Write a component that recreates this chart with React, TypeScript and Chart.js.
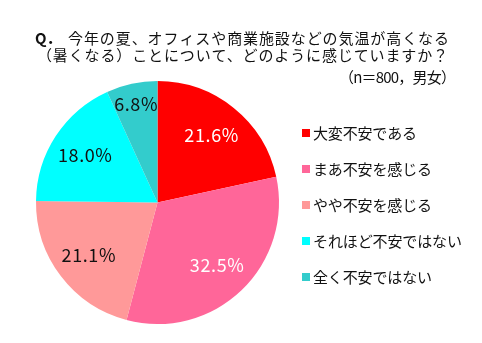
import React, { useEffect, useRef } from "react";
import { Chart, registerables } from "chart.js";

Chart.register(...registerables);

const questionMark = "Q．";
const titleLines = [
  "今年の夏、オフィスや商業施設などの気温が高くなる",
  "（暑くなる）ことについて、どのように感じていますか？",
];
const sampleNote = "（n＝800，男女）";
const categories = [
  "大変不安である",
  "まあ不安を感じる",
  "やや不安を感じる",
  "それほど不安ではない",
  "全く不安ではない",
];
const shares = [21.6, 32.5, 21.1, 18.0, 6.8];
const sliceColors = ["#ff0000", "#ff6699", "#ff9999", "#00ffff", "#33cccc"];
const labelColors = ["#ffffff", "#ffffff", "#111111", "#111111", "#111111"];

const FONT = '"Noto Sans CJK JP", "Noto Sans", sans-serif';

// Draws text left-aligned at x, stretching letter spacing so it spans `width`.
function fitText(ctx: any, text: string, x: number, y: number, width: number) {
  ctx.letterSpacing = "0px";
  const w = ctx.measureText(text).width;
  const n = Array.from(text).length;
  const sp = n > 1 ? (width - w) / (n - 1) : 0;
  ctx.letterSpacing = `${sp}px`;
  ctx.textAlign = "left";
  ctx.fillText(text, x, y);
  ctx.letterSpacing = "0px";
}

const overlayPlugin = {
  id: "overlay",
  afterDraw(chart: any) {
    const ctx = chart.ctx as any;
    ctx.save();
    ctx.fillStyle = "#111111";
    ctx.textBaseline = "middle";

    // Title block
    ctx.font = `bold 15px ${FONT}`;
    ctx.textAlign = "left";
    ctx.fillText(questionMark, 35, 38);
    ctx.font = `15px ${FONT}`;
    fitText(ctx, titleLines[0], 68, 38, 381);
    fitText(ctx, titleLines[1], 37, 55, 411);
    fitText(ctx, sampleNote, 339, 77, 117);

    // Legend on the right
    categories.forEach((name, i) => {
      const y = 133 + i * 36;
      ctx.fillStyle = sliceColors[i];
      ctx.fillRect(302, y - 4, 8, 8);
      ctx.fillStyle = "#111111";
      ctx.font = `15px ${FONT}`;
      fitText(ctx, name, 313, y, Array.from(name).length * 15 - 1);
    });

    // Percentage labels inside slices
    const meta = chart.getDatasetMeta(0);
    meta.data.forEach((arc: any, i: number) => {
      const p = arc.getProps(["x", "y", "startAngle", "endAngle", "outerRadius"], true);
      const mid = (p.startAngle + p.endAngle) / 2;
      const frac = shares[i] < 10 ? 0.83 : 0.71;
      const r = p.outerRadius * frac;
      const x = p.x + Math.cos(mid) * r;
      const y = p.y + Math.sin(mid) * r;
      ctx.fillStyle = labelColors[i];
      ctx.font = `18px ${FONT}`;
      ctx.letterSpacing = "0.6px";
      ctx.textAlign = "center";
      ctx.textBaseline = "middle";
      ctx.fillText(shares[i].toFixed(1) + "%", x, y);
      ctx.letterSpacing = "0px";
    });

    ctx.restore();
  },
};

export default function App() {
  const ref = useRef<HTMLCanvasElement | null>(null);

  useEffect(() => {
    if (!ref.current) return;
    const chart = new Chart(ref.current, {
      type: "pie",
      data: {
        labels: categories,
        datasets: [
          {
            data: shares,
            backgroundColor: sliceColors,
            borderWidth: 0,
          },
        ],
      },
      options: {
        animation: false,
        responsive: false,
        layout: { padding: { left: 35, right: 202, top: 81, bottom: 19 } },
        plugins: {
          legend: { display: false },
          tooltip: { enabled: false },
          title: { display: false },
        },
      },
      plugins: [overlayPlugin],
    });
    return () => chart.destroy();
  }, []);

  return (
    <div style={{ position: "absolute", left: 0, top: 0, width: 482, height: 343, background: "#ffffff" }}>
      <canvas ref={ref} width={482} height={343} style={{ width: 482, height: 343, display: "block" }} />
    </div>
  );
}
